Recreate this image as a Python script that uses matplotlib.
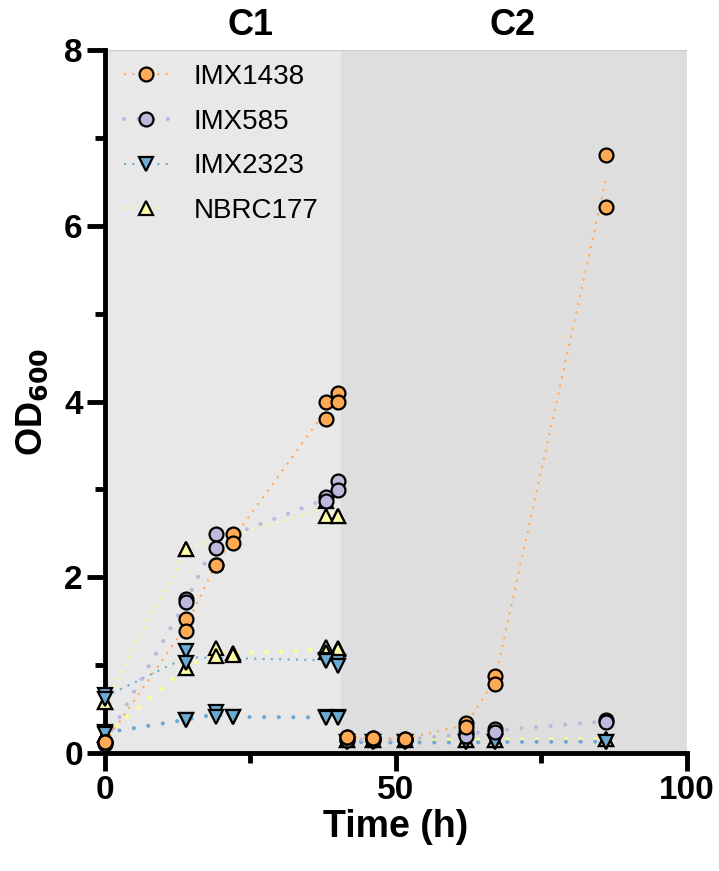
import matplotlib
matplotlib.use('Agg')
import matplotlib.pyplot as plt
from matplotlib.lines import Line2D
import numpy as np

plt.rcParams['font.family'] = ['Liberation Sans', 'DejaVu Sans']

# --- data (two replicates per time point) ---
# C1 (first cultivation)
t_1438_c1 = [0, 14, 19, 22, 38, 40]
imx1438_c1_a = [0.10, 1.52, 2.14, 2.49, 4.00, 4.10]
imx1438_c1_b = [0.13, 1.39, 2.14, 2.39, 3.80, 4.00]

t_585_c1 = [0, 14, 19, 38, 40]
imx585_c1_a = [0.12, 1.75, 2.49, 2.91, 3.10]
imx585_c1_b = [0.12, 1.72, 2.33, 2.87, 2.99]

t_2323hi_c1 = [0, 14, 38, 40]
imx2323hi_c1_a = [0.66, 1.16, 1.06, 1.04]
imx2323hi_c1_b = [0.62, 1.02, 1.05, 0.99]

t_2323lo_c1 = [0, 14, 19, 22, 38, 40]
imx2323lo_c1_a = [0.24, 0.38, 0.47, 0.41, 0.41, 0.41]
imx2323lo_c1_b = [0.22, 0.38, 0.41, 0.41, 0.40, 0.40]

t_177hi_c1 = [0, 14, 38, 40]
nbrc177hi_c1_a = [0.58, 2.32, 2.87, 2.70]
nbrc177hi_c1_b = [0.58, 2.32, 2.70, 2.70]

t_177lo_c1 = [0, 14, 19, 22, 38, 40]
nbrc177lo_c1_a = [0.20, 0.97, 1.20, 1.14, 1.21, 1.19]
nbrc177lo_c1_b = [0.20, 0.97, 1.10, 1.12, 1.15, 1.18]

# C2 (second cultivation)
t_c2 = [41.5, 46, 51.5, 62, 67, 86]
imx1438_c2_a = [0.18, 0.17, 0.16, 0.34, 0.88, 6.81]
imx1438_c2_b = [0.18, 0.17, 0.16, 0.30, 0.79, 6.21]
imx585_c2_a = [0.15, 0.15, 0.15, 0.24, 0.27, 0.37]
imx585_c2_b = [0.15, 0.15, 0.15, 0.19, 0.24, 0.35]
imx2323_c2_a = [0.13, 0.12, 0.12, 0.12, 0.13, 0.13]
imx2323_c2_b = [0.13, 0.12, 0.12, 0.12, 0.12, 0.13]
nbrc177_c2_a = [0.15, 0.15, 0.15, 0.15, 0.15, 0.16]
nbrc177_c2_b = [0.15, 0.15, 0.15, 0.15, 0.15, 0.16]

strains = ["IMX1438", "IMX585", "IMX2323", "NBRC177"]
colors = {"IMX1438": "#FFAA55", "IMX585": "#BEB9DC",
          "IMX2323": "#6BAAD2", "NBRC177": "#FFFFAA"}
line_colors = {"IMX1438": "#FFAA55", "IMX585": "#BEB9DC",
               "IMX2323": "#6BAAD2", "NBRC177": "#FFFF88"}
markers = {"IMX1438": "o", "IMX585": "o", "IMX2323": "v", "NBRC177": "^"}

c1_end = 40.5

fig = plt.figure(figsize=(7.19, 8.71), dpi=100)
ax = fig.add_axes([0.146, 0.1355, 0.8095, 0.807])

# shaded cultivation phases
ax.axvspan(0, c1_end, color="#E8E8E8", zorder=0, lw=0)
ax.axvspan(c1_end, 100, color="#DEDEDE", zorder=0, lw=0)
ax.axhline(8, color="#CCCCCC", lw=1, zorder=0.5)

small_dots = dict(ls=(0, (1, 3)), lw=1.5)
big_dots = dict(ls=(0, (0.01, 3.5)), lw=3, dash_capstyle="round")

series = [
    ("NBRC177", t_177hi_c1, nbrc177hi_c1_a, nbrc177hi_c1_b, small_dots),
    ("NBRC177", t_177lo_c1, nbrc177lo_c1_a, nbrc177lo_c1_b, big_dots),
    ("NBRC177", t_c2, nbrc177_c2_a, nbrc177_c2_b, big_dots),
    ("IMX2323", t_2323hi_c1, imx2323hi_c1_a, imx2323hi_c1_b, small_dots),
    ("IMX2323", t_2323lo_c1, imx2323lo_c1_a, imx2323lo_c1_b, big_dots),
    ("IMX2323", t_c2, imx2323_c2_a, imx2323_c2_b, big_dots),
    ("IMX585", t_585_c1, imx585_c1_a, imx585_c1_b, big_dots),
    ("IMX585", t_c2, imx585_c2_a, imx585_c2_b, big_dots),
    ("IMX1438", t_1438_c1, imx1438_c1_a, imx1438_c1_b, small_dots),
    ("IMX1438", t_c2, imx1438_c2_a, imx1438_c2_b, small_dots),
]

for i, (name, t, a, b, style) in enumerate(series):
    mean = (np.array(a) + np.array(b)) / 2
    ax.plot(t, mean, color=line_colors[name], zorder=1, clip_on=False, **style)
    for rep in (a, b):
        ax.plot(t, rep, ls="none", marker=markers[name], ms=10,
                mfc=colors[name], mec="black", mew=1.6,
                zorder=3 + i * 0.1, clip_on=False)

ax.set_xlim(0, 100)
ax.set_ylim(0, 8)
ax.set_xticks([0, 50, 100])
ax.set_xticks([25, 75], minor=True)
ax.set_yticks([0, 2, 4, 6, 8])
ax.set_yticks([1, 3, 5, 7], minor=True)

for side in ("top", "right"):
    ax.spines[side].set_visible(False)
for side in ("left", "bottom"):
    ax.spines[side].set_linewidth(3.5)
    ax.spines[side].set_capstyle("projecting")

ax.tick_params(which="major", length=13, width=3.5, pad=3, labelsize=24)
ax.tick_params(which="minor", length=7.5, width=3.5)
for lab in ax.get_xticklabels() + ax.get_yticklabels():
    lab.set_fontweight("bold")

ax.set_xlabel("Time (h)", fontsize=27, fontweight="bold", labelpad=2)
ax.set_ylabel("OD$_{\\mathbf{600}}$", fontsize=26, fontweight="bold", labelpad=10)

ax.text(25, 8.28, "C1", fontsize=26, fontweight="bold", ha="center", va="center")
ax.text(70, 8.28, "C2", fontsize=26, fontweight="bold", ha="center", va="center")

handles = []
for name, style in zip(strains, [small_dots, big_dots, small_dots, small_dots]):
    handles.append(Line2D([], [], color=line_colors[name], marker=markers[name],
                          ms=10, mfc=colors[name], mec="black", mew=1.6, **style))
ax.legend(handles, strains, loc="upper left", bbox_to_anchor=(0.033, 0.98),
          frameon=False, fontsize=20, borderpad=0, borderaxespad=0,
          handlelength=1.6, handletextpad=0.9, labelspacing=0.67)

fig.savefig("out.png", dpi=100)
